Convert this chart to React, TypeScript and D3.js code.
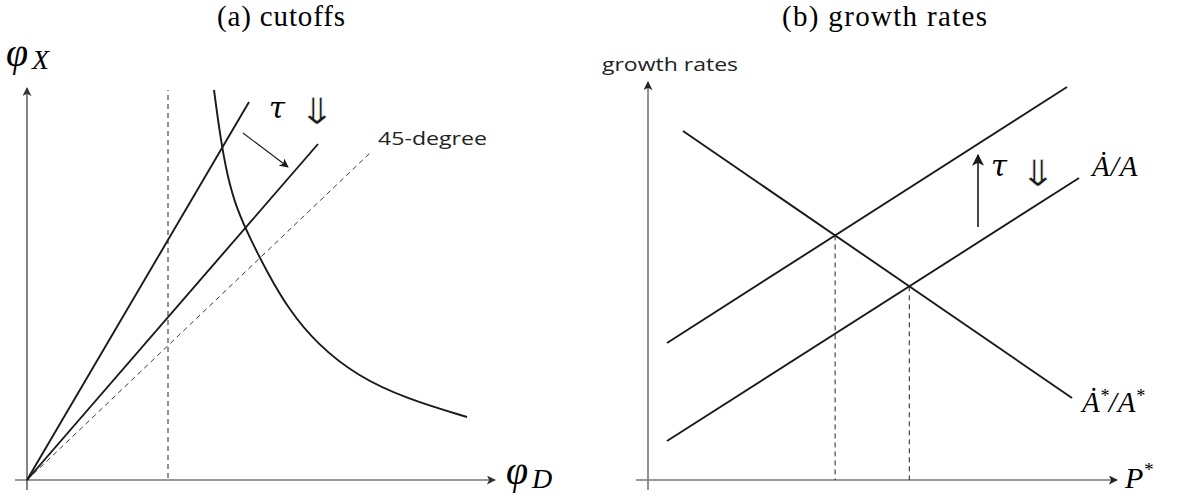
import React from "react";
import * as d3 from "d3";

// ---------- Panel (a): cutoffs (units measured from the origin) ----------
const steepLine: [number, number][] = [[0, 0], [222, 378]];
const shiftedLine: [number, number][] = [[0, 0], [291, 336]];
const fortyFive: [number, number][] = [[0, 0], [343, 327]];
const cutoffDashX = 141;
const cutoffDashRange: [number, number] = [2, 390];
const curvePts: [number, number][] = [
  [187, 390], [193, 345], [200, 305], [210, 270], [224, 240], [240, 208],
  [262, 170], [290, 136], [330, 104], [380, 81], [440, 63],
];
const tauArrowA: [number, number][] = [[216, 347], [261, 313]];

// ---------- Panel (b): growth rates ----------
const upperLine: [number, number][] = [[19, 137], [419, 393]];
const lowerLine: [number, number][] = [[19, 39], [431, 302]];
const downLine: [number, number][] = [[35, 349], [424, 82]];
const tauArrowB: [number, number][] = [[330, 253], [330, 325]];

const titles = ["(a) cutoffs", "(b) growth rates"];

function intersect(a: [number, number][], b: [number, number][]): [number, number] {
  const [[x1, y1], [x2, y2]] = a;
  const [[x3, y3], [x4, y4]] = b;
  const m1 = (y2 - y1) / (x2 - x1);
  const m2 = (y4 - y3) / (x4 - x3);
  const x = (y3 - y1 + m1 * x1 - m2 * x3) / (m1 - m2);
  return [x, y1 + m1 * (x - x1)];
}

const serif = "'Liberation Serif', 'DejaVu Serif', serif";
const dvs = "'DejaVu Serif', serif";
const sans = "'Open Sans', 'Noto Sans', sans-serif";

function BigArrow({ x, y }: { x: number; y: number }) {
  return (
    <text
      transform={`translate(${x},${y}) scale(1.35,1.08)`}
      fontFamily="'DejaVu Sans', sans-serif"
      fontSize={34}
      fill="#1a1a1a"
      stroke="#fff"
      strokeWidth={0.5}
    >
      ⇓
    </text>
  );
}

export default function App() {
  const xa = d3.scaleLinear().domain([0, 470]).range([27, 497]);
  const ya = d3.scaleLinear().domain([0, 392]).range([480, 88]);
  const xb = d3.scaleLinear().domain([0, 470]).range([648, 1118]);
  const yb = d3.scaleLinear().domain([0, 398]).range([480, 82]);

  const lineA = d3.line<[number, number]>().x((d) => xa(d[0])).y((d) => ya(d[1]));
  const curveA = d3
    .line<[number, number]>()
    .x((d) => xa(d[0]))
    .y((d) => ya(d[1]))
    .curve(d3.curveBasis);
  const lineB = d3.line<[number, number]>().x((d) => xb(d[0])).y((d) => yb(d[1]));

  const i1 = intersect(upperLine, downLine);
  const i2 = intersect(lowerLine, downLine);

  const main = { stroke: "#1a1a1a", strokeWidth: 1.9, fill: "none" };
  const dash = { stroke: "#222", strokeWidth: 1, fill: "none", strokeDasharray: "5,4" };

  return (
    <svg
      width={1180}
      height={497}
      style={{ position: "absolute", left: 0, top: 0, background: "#fff" }}
    >
      <defs>
        <marker id="ahBlack" viewBox="0 0 10 10" refX="9" refY="5" markerWidth="9" markerHeight="9" markerUnits="userSpaceOnUse" orient="auto">
          <path d="M0,0 L10,5 L0,10 L2.5,5 Z" fill="#1a1a1a" />
        </marker>
        <marker id="ahAxisA" viewBox="0 0 10 10" refX="9" refY="5" markerWidth="9" markerHeight="9" markerUnits="userSpaceOnUse" orient="auto">
          <path d="M0,0 L10,5 L0,10 L2.5,5 Z" fill="#333" />
        </marker>
        <marker id="ahAxisB" viewBox="0 0 10 10" refX="9" refY="5" markerWidth="9" markerHeight="9" markerUnits="userSpaceOnUse" orient="auto">
          <path d="M0,0 L10,5 L0,10 L2.5,5 Z" fill="#222" />
        </marker>
        <marker id="ahBig" viewBox="0 0 10 10" refX="9" refY="5" markerWidth="12" markerHeight="12" markerUnits="userSpaceOnUse" orient="auto">
          <path d="M0,0 L10,5 L0,10 L2.5,5 Z" fill="#1a1a1a" />
        </marker>
      </defs>

      {/* Titles */}
      <text x={217} y={26} fontFamily={serif} fontSize={29} textLength={128} lengthAdjust="spacing">{titles[0]}</text>
      <text x={782} y={26} fontFamily={serif} fontSize={29} textLength={205} lengthAdjust="spacing">{titles[1]}</text>

      {/* ---------------- Panel (a) ---------------- */}
      <line x1={xa(-12)} y1={ya(0)} x2={xa(468)} y2={ya(0)} stroke="#333" strokeWidth={1.2} markerEnd="url(#ahAxisA)" />
      <line x1={xa(0)} y1={ya(-10)} x2={xa(0)} y2={ya(392)} stroke="#333" strokeWidth={1.2} markerEnd="url(#ahAxisA)" />
      <line x1={xa(cutoffDashX)} y1={ya(cutoffDashRange[0])} x2={xa(cutoffDashX)} y2={ya(cutoffDashRange[1])} {...dash} />
      <path d={lineA(fortyFive) || ""} {...dash} strokeWidth={0.9} />
      <path d={lineA(steepLine) || ""} {...main} />
      <path d={lineA(shiftedLine) || ""} {...main} />
      <path d={curveA(curvePts) || ""} {...main} />
      <line x1={xa(tauArrowA[0][0])} y1={ya(tauArrowA[0][1])} x2={xa(tauArrowA[1][0])} y2={ya(tauArrowA[1][1])} stroke="#1a1a1a" strokeWidth={1.1} markerEnd="url(#ahBlack)" />
      <text x={269} y={118} fontFamily={dvs} fontStyle="italic" fontSize={29}>τ</text>
      <BigArrow x={298} y={124} />
      <text x={378} y={145} fontFamily={sans} fontSize={19} fill="#222" textLength={109} lengthAdjust="spacingAndGlyphs">45-degree</text>
      <text x={6} y={66} fontFamily={serif} fontStyle="italic" fontSize={40}>φ</text>
      <text x={32} y={69} fontFamily={serif} fontStyle="italic" fontSize={28}>X</text>
      <text x={506} y={484} fontFamily={serif} fontStyle="italic" fontSize={40}>φ</text>
      <text x={532} y={488} fontFamily={serif} fontStyle="italic" fontSize={28}>D</text>

      {/* ---------------- Panel (b) ---------------- */}
      <line x1={xb(-12)} y1={yb(0)} x2={xb(469)} y2={yb(0)} stroke="#777" strokeWidth={1.6} markerEnd="url(#ahAxisB)" />
      <line x1={xb(0)} y1={yb(-10)} x2={xb(0)} y2={yb(398)} stroke="#777" strokeWidth={1.6} markerEnd="url(#ahAxisB)" />
      <text x={602} y={71} fontFamily={sans} fontSize={18} fill="#222" textLength={136} lengthAdjust="spacingAndGlyphs">growth rates</text>

      <line x1={xb(i1[0])} y1={yb(i1[1])} x2={xb(i1[0])} y2={yb(0)} {...dash} />
      <line x1={xb(i2[0])} y1={yb(i2[1])} x2={xb(i2[0])} y2={yb(0)} {...dash} />

      <path d={lineB(upperLine) || ""} {...main} />
      <path d={lineB(lowerLine) || ""} {...main} />
      <path d={lineB(downLine) || ""} {...main} />

      <line x1={xb(tauArrowB[0][0])} y1={yb(tauArrowB[0][1])} x2={xb(tauArrowB[1][0])} y2={yb(tauArrowB[1][1])} stroke="#1a1a1a" strokeWidth={1.6} markerEnd="url(#ahBig)" />
      <text x={991} y={176} fontFamily={dvs} fontStyle="italic" fontSize={29}>τ</text>
      <BigArrow x={1019} y={186} />

      <text x={1092} y={176} fontFamily={serif} fontStyle="italic" fontSize={29}>
        Ȧ<tspan dx={1}>/</tspan><tspan dx={1}>A</tspan>
      </text>
      <text x={1082} y={412} fontFamily={serif} fontStyle="italic" fontSize={29}>
        Ȧ<tspan dy={-10} fontSize={18}>*</tspan><tspan dy={10}>/</tspan><tspan dx={1}>A</tspan><tspan dy={-10} fontSize={18}>*</tspan>
      </text>
      <text x={1125} y={488} fontFamily={serif} fontStyle="italic" fontSize={30}>
        P<tspan dy={-12} fontSize={19}>*</tspan>
      </text>
    </svg>
  );
}
